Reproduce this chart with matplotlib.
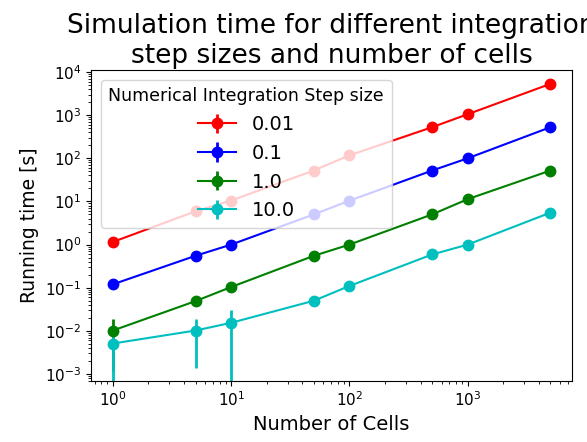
import numpy as np
import matplotlib
matplotlib.use("Agg")
import matplotlib.pyplot as plt

# number of cells simulated
n_cells = [1, 5, 10, 50, 100, 500, 1000, 5000]

# running time [s] per integration step size
steps = ['0.01', '0.1', '1.0', '10.0']
t_001 = [1.15, 5.9, 10.5, 52, 117, 525, 1050, 5300]
t_01 = [0.12, 0.55, 1.0, 5.0, 10.4, 52, 100, 525]
t_1 = [0.0102, 0.049, 0.104, 0.55, 1.0, 5.0, 11.3, 52]
t_10 = [0.0051, 0.0102, 0.0154, 0.05, 0.11, 0.59, 1.0, 5.5]

# standard deviations over repeated runs
sd_001 = [0, 0, 0, 0, 0, 0, 0, 0]
sd_01 = [0, 0, 0, 0, 0, 0, 0, 0]
sd_1 = [0.009, 0, 0, 0, 0, 0, 0, 0]
sd_10 = [0.0065, 0.0088, 0.015, 0, 0, 0, 0, 0]

times = [t_001, t_01, t_1, t_10]
sds = [sd_001, sd_01, sd_1, sd_10]
colors = ['r', 'b', 'g', 'c']

fig = plt.figure(figsize=(5.87, 4.42), dpi=100)
ax = fig.add_axes([0.155, 0.138, 0.82, 0.704])

for t, sd, c, lab in zip(times, sds, colors, steps):
    ax.errorbar(n_cells, t, yerr=sd, color=c, marker='o', markersize=7.5,
                linewidth=1.5, elinewidth=2, label=lab)

ax.set_xscale('log')
ax.set_yscale('log')
ax.set_ylim(6.9e-4, 1.12e4)
ax.tick_params(labelsize=11)

ax.set_xlabel('Number of Cells', fontsize=14)
ax.set_ylabel('Running time [s]', fontsize=13.5)
ax.set_title('Simulation time for different integration\nstep sizes and number of cells',
             fontsize=19, pad=5)
ax.legend(title='Numerical Integration Step size', loc='upper left',
          fontsize=14, title_fontsize=12.5)

fig.savefig('out.png', dpi=100)
